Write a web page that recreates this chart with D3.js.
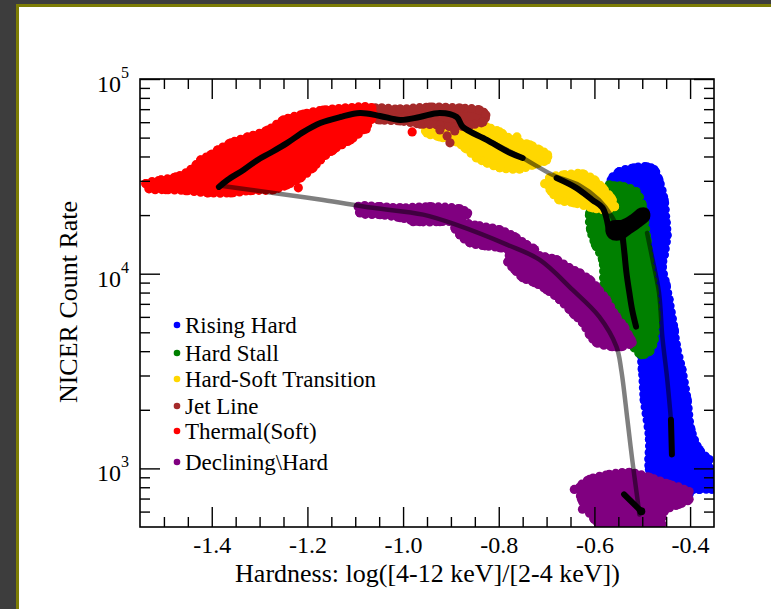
<!DOCTYPE html>
<html><head><meta charset="utf-8">
<script src="https://cdn.jsdelivr.net/npm/d3@7"></script>
<style>
body{margin:0;background:#3d3d3d}
svg{display:block}
text{font-family:"Liberation Serif","Times New Roman",Times,serif;fill:#000}
</style>
</head><body>
<svg id="chart" width="771" height="609"></svg>
<script>
// Hardness (log of 4-12 keV over 2-4 keV) against NICER count rate.
// Each outburst phase is given as the outline of its point cloud plus stray points.

const xMajorTicks = [-1.4, -1.2, -1.0, -0.8, -0.6, -0.4];
const yMajorTicks = [1e3, 1e4, 1e5];
const yTickExponents = ["3", "4", "5"];

// Rising Hard
const risingOutline = [[-0.565,30300],[-0.548,33400],[-0.517,35000],[-0.490,35400],[-0.475,34200],[-0.465,30300],[-0.454,23900],[-0.450,18300],[-0.448,15800],[-0.454,12500],[-0.458,10900],[-0.450,8780],[-0.444,7360],[-0.433,5160],[-0.429,4330],[-0.417,3220],[-0.406,2260],[-0.398,1585],[-0.381,1250],[-0.367,1140],[-0.354,800],[-0.381,780],[-0.413,780],[-0.465,809],[-0.485,988],[-0.485,1410],[-0.496,2260],[-0.500,3220],[-0.506,4330],[-0.531,7360],[-0.544,13300],[-0.558,23900]];
const risingDots = [[-0.354,780],[-0.360,1110],[-0.390,1330],[-0.371,931],[-0.402,736]];

// Hard Stall
const stallOutline = [[-0.558,28300],[-0.538,27900],[-0.513,26400],[-0.500,22600],[-0.496,19600],[-0.490,14900],[-0.485,11800],[-0.475,8280],[-0.471,6020],[-0.475,4590],[-0.485,3980],[-0.502,3840],[-0.517,4180],[-0.538,4860],[-0.563,6780],[-0.579,8280],[-0.583,11800],[-0.598,14100],[-0.608,16800],[-0.610,20500],[-0.596,23900],[-0.577,26400]];
const stallDots = [[-0.569,28600]];

// Hard-Soft Transition
const transitionOutlineA = [[-0.958,59400],[-0.896,60200],[-0.860,60200],[-0.825,56700],[-0.798,53500],[-0.771,48700],[-0.735,45900],[-0.715,43300],[-0.698,40800],[-0.700,38400],[-0.729,36200],[-0.756,34500],[-0.798,35000],[-0.825,37100],[-0.846,39300],[-0.871,44300],[-0.888,47500],[-0.923,50400],[-0.950,52800]];
const transitionOutlineB = [[-0.694,31000],[-0.662,32200],[-0.625,32600],[-0.600,30300],[-0.583,27600],[-0.565,24500],[-0.558,22100],[-0.579,21300],[-0.604,21800],[-0.642,23100],[-0.673,23900],[-0.690,26400],[-0.698,28600]];
const transitionDots = [[-0.950,54700],[-0.762,50400],[-0.704,29000]];

// Jet Line
const jetOutline = [[-1.065,70100],[-1.006,70100],[-0.944,71800],[-0.881,70900],[-0.840,69300],[-0.827,65400],[-0.833,60200],[-0.860,58000],[-0.892,56700],[-0.923,58000],[-0.965,58700],[-1.006,60900],[-1.048,61600],[-1.065,63100]];
const jetDots = [[-0.923,54700],[-0.908,51000],[-0.902,47000],[-0.892,54100]];

// Thermal (Soft)
const thermalOutline = [[-1.538,29000],[-1.506,30300],[-1.475,31400],[-1.444,34200],[-1.423,38400],[-1.402,40800],[-1.387,43300],[-1.360,47000],[-1.325,50400],[-1.283,54700],[-1.250,61600],[-1.208,66100],[-1.167,69300],[-1.121,70900],[-1.065,70900],[-1.065,63100],[-1.079,56100],[-1.110,48700],[-1.146,43300],[-1.173,38400],[-1.188,35000],[-1.215,31000],[-1.242,28600],[-1.271,27000],[-1.319,26700],[-1.360,26000],[-1.408,26000],[-1.454,26700],[-1.496,27000],[-1.531,27300]];
const thermalDots = [[-1.531,28300],[-1.219,27600],[-1.188,36200],[-1.148,42800],[-1.110,48700],[-1.077,55300],[-0.981,53500]];

// Declining\Hard
const decliningOutlineA = [[-1.094,22100],[-1.048,22100],[-1.006,21800],[-0.944,22100],[-0.881,21500],[-0.865,20500],[-0.881,18900],[-0.923,18500],[-0.965,18500],[-1.006,19400],[-1.048,20100],[-1.090,20500]];
const decliningOutlineB = [[-0.888,18300],[-0.840,17600],[-0.798,16800],[-0.767,15500],[-0.742,14100],[-0.725,13300],[-0.735,12500],[-0.767,13000],[-0.798,13600],[-0.829,13900],[-0.860,14400],[-0.881,15800],[-0.892,17200]];
const decliningOutlineC = [[-0.777,12500],[-0.742,12800],[-0.704,12200],[-0.679,11800],[-0.652,10700],[-0.631,10100],[-0.610,9320],[-0.596,8580],[-0.575,7360],[-0.554,6020],[-0.538,5350],[-0.527,4750],[-0.521,4430],[-0.544,4220],[-0.563,4220],[-0.596,4430],[-0.610,4860],[-0.625,5610],[-0.642,6160],[-0.652,6540],[-0.673,7360],[-0.700,8280],[-0.725,8990],[-0.750,9540],[-0.767,10500],[-0.781,11500]];
const decliningOutlineD = [[-0.610,879],[-0.569,931],[-0.527,953],[-0.485,900],[-0.444,828],[-0.413,780],[-0.402,694],[-0.423,654],[-0.454,602],[-0.465,480],[-0.569,480],[-0.600,547],[-0.627,694],[-0.631,800]];
const decliningDots = [[-0.885,21300],[-0.979,18500],[-0.642,780],[-0.625,617],[-0.594,530],[-0.402,760]];

// Median track through the outburst
const medianTrackA = [[-1.385,27900],[-1.367,30300],[-1.333,34200],[-1.304,38400],[-1.277,41800],[-1.242,47000],[-1.208,53500],[-1.173,59400],[-1.131,63800],[-1.090,66900],[-1.048,64600],[-1.006,61600],[-0.965,63800],[-0.923,66900],[-0.888,63800],[-0.875,56700],[-0.825,48700],[-0.777,41800],[-0.750,39300]];
const medianTrackB = [[-0.679,31000],[-0.638,27600],[-0.604,23900],[-0.583,21800],[-0.571,17400]];
const medianStallKnot = [[-0.573,17000],[-0.563,18300],[-0.542,18500],[-0.521,19800],[-0.504,21300],[-0.490,21100],[-0.488,19300],[-0.504,17800],[-0.525,16400],[-0.546,15200],[-0.567,15500]];
const medianStallDrop = [[-0.542,16400],[-0.538,13300],[-0.533,10100],[-0.527,8000],[-0.521,6500],[-0.513,5350]];
const medianTrackC = [[-0.440,1780],[-0.438,1180]];
const medianTrackD = [[-0.538,736],[-0.502,602]];

// Model track
const modelDecline = [[-1.381,28300],[-1.271,26000],[-1.167,23900],[-1.063,21800],[-0.958,20100],[-0.888,17800],[-0.783,14100],[-0.715,11800],[-0.646,8280],[-0.590,6020],[-0.554,4220],[-0.544,3220],[-0.531,1780],[-0.521,1110],[-0.510,694],[-0.506,580]];
const modelTransition = [[-0.875,56700],[-0.825,48700],[-0.750,39300],[-0.688,32200],[-0.631,28400],[-0.590,23900],[-0.563,19600],[-0.544,15500],[-0.535,12000]];
const modelRise = [[-0.490,16200],[-0.479,12000],[-0.465,8000],[-0.458,4750],[-0.448,2900],[-0.440,1780]];

const phaseNames = ["Rising Hard","Hard Stall","Hard-Soft Transition","Jet Line","Thermal(Soft)","Declining\\Hard"];
const phaseColors = ["#0000ff","#008000","#ffd700","#a52a2a","#ff0000","#800080"];

const phases = [
  {outlines:[risingOutline], dots:risingDots},
  {outlines:[stallOutline], dots:stallDots},
  {outlines:[transitionOutlineA, transitionOutlineB], dots:transitionDots},
  {outlines:[jetOutline], dots:jetDots},
  {outlines:[thermalOutline], dots:thermalDots},
  {outlines:[decliningOutlineA, decliningOutlineB, decliningOutlineC, decliningOutlineD], dots:decliningDots}
];

const svg = d3.select("#chart");
const W = 771, H = 609;
const plot = {left:140, right:714, top:79, bottom:527};

// window frame
svg.append("rect").attr("width",W).attr("height",H).attr("fill","#3d3d3d");
svg.append("rect").attr("x",16).attr("y",4).attr("width",W-16).attr("height",H-4).attr("fill","#7d7d05");
svg.append("rect").attr("x",19).attr("y",7).attr("width",W-19).attr("height",H-7).attr("fill","#fff");

const x = d3.scaleLinear().domain([-1.55,-0.35]).range([plot.left,plot.right]);
const y = d3.scaleLog().domain([500,1e5]).range([plot.bottom,plot.top]);

svg.append("clipPath").attr("id","clip").append("rect")
  .attr("x",plot.left).attr("y",plot.top)
  .attr("width",plot.right-plot.left).attr("height",plot.bottom-plot.top);

const data = svg.append("g").attr("clip-path","url(#clip)");
const blob = d3.line().x(d=>x(d[0])).y(d=>y(d[1])).curve(d3.curveCatmullRomClosed.alpha(0.5));
const track = d3.line().x(d=>x(d[0])).y(d=>y(d[1])).curve(d3.curveCatmullRom.alpha(0.5));

phases.forEach((p,i)=>{
  const c = phaseColors[i];
  const g = data.append("g");
  p.outlines.forEach(o=>{
    g.append("path").datum(o).attr("d",blob)
      .attr("fill",c).attr("stroke",c).attr("stroke-width",4).attr("stroke-linejoin","round");
    // beaded rim: a chain of round dots along the cloud edge
    g.append("path").datum(o).attr("d",blob)
      .attr("fill","none").attr("stroke",c).attr("stroke-width",9)
      .attr("stroke-linecap","round").attr("stroke-dasharray","0 6.5");
  });
  g.selectAll("circle").data(p.outlines.flat().concat(p.dots)).join("circle")
    .attr("cx",d=>x(d[0])).attr("cy",d=>y(d[1])).attr("r",4.6).attr("fill",c);
});

// model track, semi-transparent
[modelDecline, modelTransition, modelRise].forEach(t=>{
  data.append("path").datum(t).attr("d",track)
    .attr("fill","none").attr("stroke","#000").attr("stroke-opacity",0.5)
    .attr("stroke-width",4.5).attr("stroke-linecap","round");
});

// median track
[medianTrackA, medianTrackB, medianStallDrop, medianTrackC, medianTrackD].forEach(t=>{
  data.append("path").datum(t).attr("d",track)
    .attr("fill","none").attr("stroke","#000")
    .attr("stroke-width",6).attr("stroke-linejoin","round").attr("stroke-linecap","round");
});
data.append("path").datum(medianStallKnot).attr("d",blob)
  .attr("fill","#000").attr("stroke","#000").attr("stroke-width",4).attr("stroke-linejoin","round");
data.append("circle").attr("cx",x(-0.502)).attr("cy",y(602)).attr("r",4).attr("fill","#000");

// axes with inward ticks on all four sides
const xMinor = d3.range(-1.5,-0.37,0.05).map(v=>+v.toFixed(2)).filter(v=>!xMajorTicks.some(m=>Math.abs(m-v)<1e-6));
const yMinor = [];
[100,1000,10000].forEach(dec=>{for(let k=2;k<=9;k++){const v=k*dec; if(v>500&&v<1e5) yMinor.push(v);}});
const yMinorF = Array.from(new Set(yMinor)).filter(v=>v>500 && !yMajorTicks.includes(v));

const axisStyle = g=>{g.select(".domain").remove(); g.selectAll("line").attr("stroke","#000").attr("stroke-width",1.4);};

svg.append("g").attr("transform",`translate(0,${plot.bottom})`)
  .call(d3.axisBottom(x).tickValues(xMajorTicks).tickSize(-20).tickPadding(9).tickFormat(d=>d.toFixed(1)))
  .call(axisStyle)
  .call(g=>g.selectAll("text").attr("font-size",24).attr("font-family",'"Liberation Serif",serif'));
svg.append("g").attr("transform",`translate(0,${plot.bottom})`)
  .call(d3.axisBottom(x).tickValues(xMinor).tickSize(-10).tickFormat("")).call(axisStyle);
svg.append("g").attr("transform",`translate(0,${plot.top})`)
  .call(d3.axisTop(x).tickValues(xMajorTicks).tickSize(-20).tickFormat("")).call(axisStyle);
svg.append("g").attr("transform",`translate(0,${plot.top})`)
  .call(d3.axisTop(x).tickValues(xMinor).tickSize(-10).tickFormat("")).call(axisStyle);

svg.append("g").attr("transform",`translate(${plot.left},0)`)
  .call(d3.axisLeft(y).tickValues(yMajorTicks).tickSize(-20).tickFormat("")).call(axisStyle);
svg.append("g").attr("transform",`translate(${plot.left},0)`)
  .call(d3.axisLeft(y).tickValues(yMinorF).tickSize(-10).tickFormat("")).call(axisStyle);
svg.append("g").attr("transform",`translate(${plot.right},0)`)
  .call(d3.axisRight(y).tickValues(yMajorTicks).tickSize(-20).tickFormat("")).call(axisStyle);
svg.append("g").attr("transform",`translate(${plot.right},0)`)
  .call(d3.axisRight(y).tickValues(yMinorF).tickSize(-10).tickFormat("")).call(axisStyle);

svg.append("rect").attr("x",plot.left).attr("y",plot.top)
  .attr("width",plot.right-plot.left).attr("height",plot.bottom-plot.top)
  .attr("fill","none").attr("stroke","#000").attr("stroke-width",1.6);

// power-of-ten labels
yMajorTicks.forEach((v,i)=>{
  const t = svg.append("text").attr("x",97).attr("y",y(v)+13).attr("font-size",24);
  t.append("tspan").text("10");
  t.append("tspan").attr("dy",-14).attr("font-size",16).text(yTickExponents[i]);
});

svg.append("text").attr("x",(plot.left+plot.right)/2 + 0.5).attr("y",582)
  .attr("text-anchor","middle").attr("font-size",26)
  .text("Hardness: log([4-12 keV]/[2-4 keV])");
svg.append("text").attr("transform","translate(77,302) rotate(-90)")
  .attr("text-anchor","middle").attr("font-size",26).text("NICER Count Rate");

// legend
const legendY = [325,353,379,406,431,462];
const legend = svg.append("g");
phaseNames.forEach((n,i)=>{
  legend.append("circle").attr("cx",177).attr("cy",legendY[i]).attr("r",3.3).attr("fill",phaseColors[i]);
  legend.append("text").attr("x",185).attr("y",legendY[i]+7.5).attr("font-size",23).text(n);
});
</script>
</body></html>
